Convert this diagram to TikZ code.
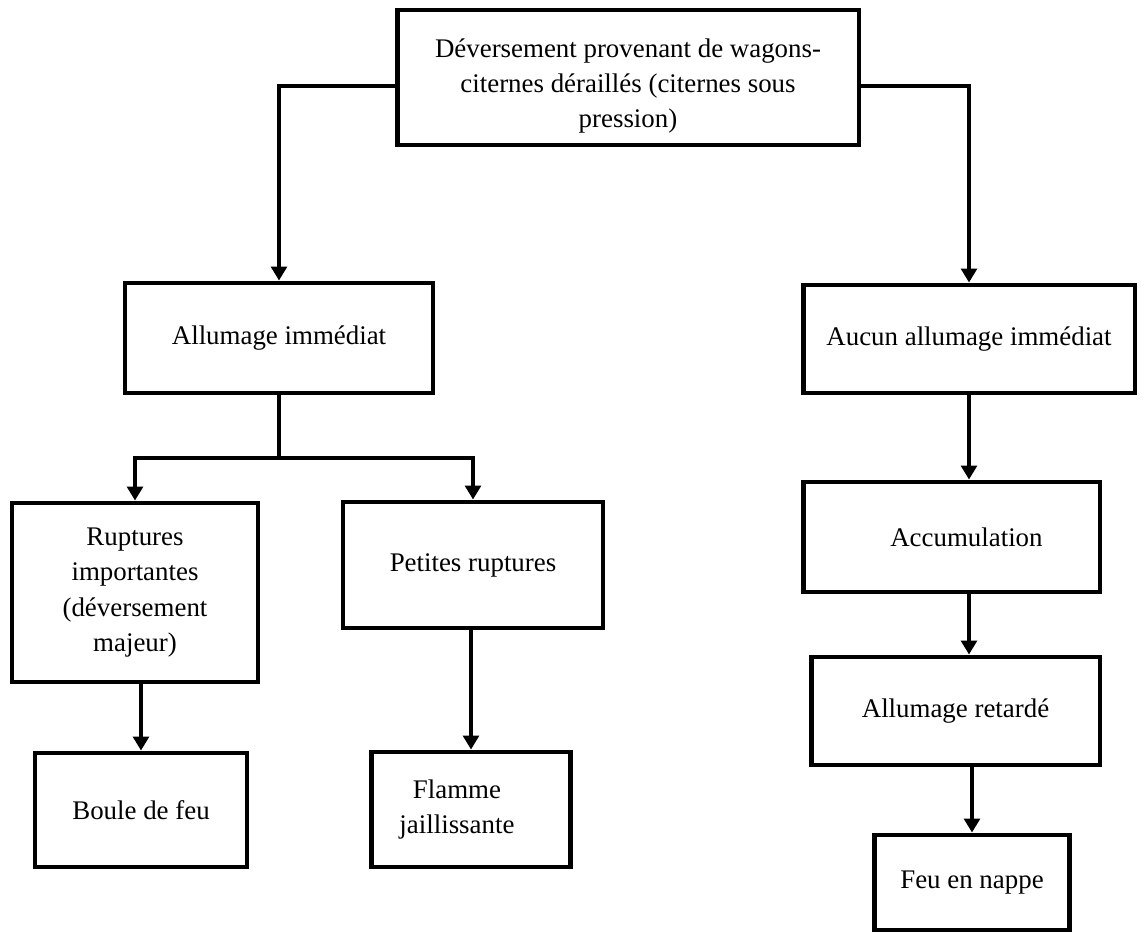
\documentclass[tikz,border=0pt]{standalone}
\usepackage{fontspec}
\setmainfont{Liberation Serif}
\usetikzlibrary{arrows.meta}

\begin{document}
\begin{tikzpicture}[
    x=0.02cm, y=-0.02cm,
    >={Triangle[width=9pt,length=8pt]},
    box/.style={
        draw=black,
        line width=2.8pt,
        align=center,
        inner sep=0pt,
        font=\fontsize{15.3}{20}\selectfont
    },
    arr/.style={->, line width=2.6pt, draw=black},
    line/.style={line width=2.6pt, draw=black}
]
    \useasboundingbox (0,0) rectangle (1148,933);

    \node[box, minimum width=9.24cm, minimum height=2.70cm] (src) at (628,77.5)
        {\rule{0pt}{20pt}Déversement provenant de wagons-\\citernes déraillés (citernes sous\\pression)};

    \node[box, minimum width=6.16cm, minimum height=2.20cm] (ign) at (279,338)
        {Allumage immédiat};
    \node[box, minimum width=6.64cm, minimum height=2.16cm] (noign) at (969,339)
        {Aucun allumage immédiat};

    \node[box, minimum width=4.92cm, minimum height=3.58cm] (major) at (135,592.5)
        {Ruptures\\importantes\\(déversement\\majeur)};
    \node[box, minimum width=5.20cm, minimum height=2.52cm] (minor) at (473,565)
        {Petites ruptures};

    \node[box, minimum width=4.24cm, minimum height=2.28cm] (ball) at (141,810)
        {Boule de feu};
    \node[box, minimum width=3.98cm, minimum height=2.30cm] (jet) at (471,809.5)
        {Flamme\hspace*{16pt}\\jaillissante\hspace*{16pt}};

    \node[box, minimum width=5.94cm, minimum height=2.20cm] (accu) at (951.5,537)
        {\hspace*{17pt}Accumulation};
    \node[box, minimum width=5.78cm, minimum height=2.16cm] (delay) at (955.5,711)
        {Allumage retardé};
    \node[box, minimum width=3.90cm, minimum height=1.90cm] (pool) at (972,882.5)
        {Feu en nappe};

    \coordinate (split) at (279,86);
    \coordinate (branch) at (279,458);

    \draw[arr] (src.west |- split) -| (ign.north);
    \draw[arr] (src.east |- split) -| (noign.north);

    \draw[line] (ign.south) -- (branch);
    \draw[arr] (branch) -| (major.north);
    \draw[arr] (branch) -| (minor.north);

    \draw[arr] (major.south -| ball.north) -- (ball.north);
    \draw[arr] (minor.south -| jet.north) -- (jet.north);

    \draw[arr] (noign.south) -- (noign.south |- accu.north);
    \draw[arr] (accu.south -| noign.south) -- (noign.south |- delay.north);
    \draw[arr] (delay.south -| pool.north) -- (pool.north);
\end{tikzpicture}
\end{document}
